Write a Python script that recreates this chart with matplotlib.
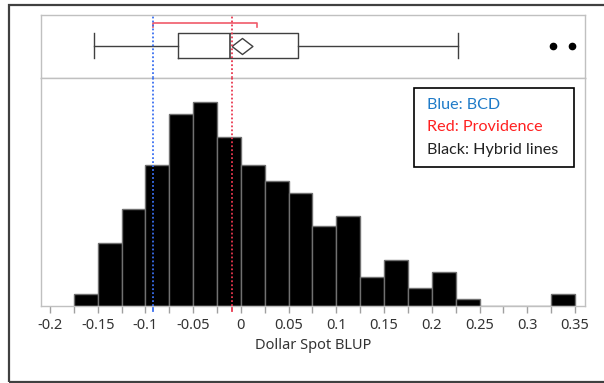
import matplotlib.pyplot as plt
from matplotlib.patches import Rectangle

# histogram bins (left edges, width 0.025) and counts
bin_left = [-0.175, -0.15, -0.125, -0.1, -0.075, -0.05, -0.025, 0.0, 0.025, 0.05,
            0.075, 0.1, 0.125, 0.15, 0.175, 0.2, 0.225, 0.25, 0.275, 0.3, 0.325]
counts = [2.0, 10.7, 16.5, 24.1, 32.8, 34.8, 28.9, 24.1, 21.4, 19.3,
          13.6, 15.4, 5.0, 7.9, 3.1, 5.8, 1.2, 0, 0, 0, 2.0]
bin_width = 0.025

# box plot summary
box_stats = dict(q1=-0.0656, med=-0.0118, q3=0.0603, whislo=-0.1543, whishi=0.2279,
                 mean=0.0011, fliers=[0.3268, 0.347])
shortest_half = [-0.0918, 0.0172]

# reference lines
bcd_value = -0.092
providence_value = -0.0096

tick_values = [-0.2, -0.15, -0.1, -0.05, 0, 0.05, 0.1, 0.15, 0.2, 0.25, 0.3, 0.35]
tick_labels = ['-0.2', '-0.15', '-0.1', '-0.05', '0', '0.05', '0.1', '0.15', '0.2', '0.25', '0.3', '0.35']
minor_values = [-0.175, -0.125, -0.075, -0.025, 0.025, 0.075, 0.125, 0.175, 0.225, 0.275, 0.325]

plt.rcParams['font.family'] = ['Noto Sans', 'DejaVu Sans']

W, H = 604, 383
fig = plt.figure(figsize=(W / 100, H / 100), dpi=100)

def fx(px):
    return px / W

def fy(py):
    return 1 - py / H

ax_l, ax_r = 41, 585
hist_top, hist_bot = 78.3, 306
box_top = 15

ax_box = fig.add_axes([fx(ax_l), fy(hist_top), fx(ax_r - ax_l), (hist_top - box_top) / H])
ax = fig.add_axes([fx(ax_l), fy(hist_bot), fx(ax_r - ax_l), (hist_bot - hist_top) / H], sharex=ax_box)

spine_col = '#c0c0c0'
for a in (ax, ax_box):
    for s in a.spines.values():
        s.set_color(spine_col)
        s.set_linewidth(1)

# histogram
ax.bar(bin_left, counts, width=bin_width, align='edge', color='black',
       edgecolor='#707070', linewidth=1)
ax.set_ylim(0, 38.9)
ax.set_yticks([])
ax.set_xlim(-0.2094, 0.3605)
ax.set_xticks(tick_values)
ax.set_xticklabels(tick_labels)
ax.set_xticks(minor_values, minor=True)
ax.tick_params(axis='x', which='both', length=5, color='#a0a0a0', width=1,
               labelsize=10.5, labelcolor='#333333', pad=3.5)
ax.set_xlabel('Dollar Spot BLUP', fontsize=10.5, color='#333333', labelpad=4)

# box plot
stats = dict(box_stats)
bp = ax_box.bxp([stats], positions=[0.513], widths=[0.395], capwidths=[0.395],
                orientation='horizontal', showmeans=True, patch_artist=False,
                boxprops=dict(color='#404040', linewidth=1),
                whiskerprops=dict(color='#404040', linewidth=1),
                capprops=dict(color='#404040', linewidth=1),
                medianprops=dict(color='#404040', linewidth=1.2),
                meanprops=dict(marker=[(-1.3, 0), (0, 1), (1.3, 0), (0, -1), (-1.3, 0)],
                               markersize=15, markerfacecolor='white',
                               markeredgecolor='#404040', markeredgewidth=1),
                flierprops=dict(marker='o', markersize=4.5, markerfacecolor='black',
                                markeredgecolor='black'))
ax_box.set_ylim(0, 1)
ax_box.set_yticks([])
ax_box.tick_params(axis='x', which='both', bottom=False, labelbottom=False)

# shortest half bracket
ax_box.plot([shortest_half[0], shortest_half[0], shortest_half[1], shortest_half[1]],
            [0.806, 0.869, 0.869, 0.806], color='#f05a6a', linewidth=1.2)

# dotted reference lines
blue_col = '#3a6ff0'
red_col = '#e8384f'
for a in (ax_box, ax):
    a.axvline(bcd_value, color=blue_col, linestyle=(0, (1, 1.2)), linewidth=1.3, zorder=5)
    a.axvline(providence_value, color=red_col, linestyle=(0, (1, 1.2)), linewidth=1.3, zorder=5)
ax.plot([bcd_value, bcd_value], [0, -5 * 38.9 / (hist_bot - hist_top)], color=blue_col,
        linewidth=1.3, clip_on=False)
ax.plot([providence_value, providence_value], [0, -5 * 38.9 / (hist_bot - hist_top)],
        color=red_col, linewidth=1.3, clip_on=False)

# legend box
leg_l, leg_r, leg_t, leg_b = 414, 574, 88, 167
fig.add_artist(Rectangle((fx(leg_l), fy(leg_b)), fx(leg_r - leg_l), (leg_b - leg_t) / H,
                         transform=fig.transFigure, fill=False, edgecolor='black',
                         linewidth=1.2))
legend_lines = [('Blue: BCD', '#1f7bc8', 105), ('Red: Providence', '#ff2020', 127.3),
                ('Black: Hybrid lines', '#222222', 150)]
for txt, col, py in legend_lines:
    fig.text(fx(427), fy(py), txt, color=col, fontsize=11.6, family=['Lato', 'DejaVu Sans'],
             ha='left', va='center')

# outer frame
fig.add_artist(Rectangle((fx(9), fy(381.7)), 1.2, (381.7 - 4.5) / H,
                         transform=fig.transFigure, fill=False, edgecolor='#404040',
                         linewidth=1.6))

fig.savefig('out.png', dpi=100)
